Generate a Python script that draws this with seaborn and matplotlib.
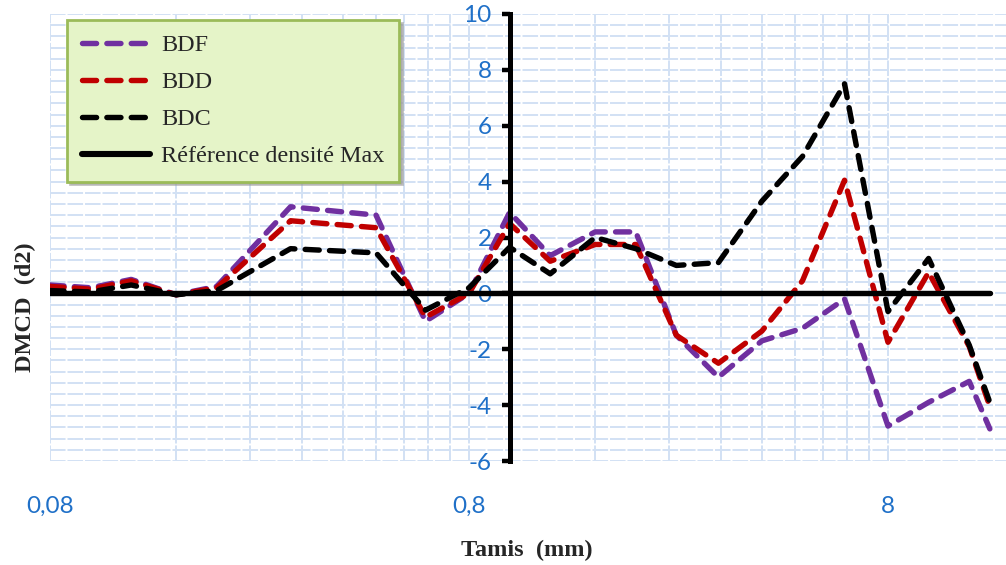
import numpy as np
import pandas as pd
import seaborn as sns
import matplotlib.pyplot as plt
from matplotlib.ticker import FixedLocator, MultipleLocator, NullFormatter

# sieve sizes (mm) and DMCD values
tamis = [0.08, 0.1, 0.125, 0.16, 0.2, 0.3, 0.48, 0.63, 0.8, 1, 1.25, 1.6,
         2, 2.5, 3.15, 4, 5, 6.3, 8, 10, 12.5, 14]
bdf = [0.3, 0.2, 0.5, -0.05, 0.25, 3.1, 2.8, -1.0, 0.0, 2.9, 1.35, 2.2,
       2.2, -1.5, -3.0, -1.7, -1.25, -0.2, -4.75, -3.9, -3.15, -4.85]
bdd = [0.25, 0.15, 0.45, -0.05, 0.2, 2.6, 2.35, -0.85, 0.0, 2.5, 1.15, 1.75,
       1.75, -1.5, -2.5, -1.35, 0.45, 4.05, -1.75, 0.75, -1.9, -4.05]
bdc = [0.1, 0.05, 0.3, -0.05, 0.1, 1.6, 1.45, -0.6, 0.2, 1.65, 0.7, 2.0,
       1.6, 1.0, 1.1, 3.3, 4.9, 7.5, -0.65, 1.25, -1.85, -3.9]
ref = [0, 0, 0, 0, 0, 0, 0, 0, 0, 0, 0, 0, 0, 0, 0, 0, 0, 0, 0, 0, 0, 0]

series = ['BDF', 'BDD', 'BDC', 'Référence densité Max']
colors = ['#7030a0', '#c00000', '#000000', '#000000']
x_ticks = [0.08, 0.8, 8]
x_ticklabels = ['0,08', '0,8', '8']

df = pd.DataFrame({'Tamis': tamis, 'BDF': bdf, 'BDD': bdd, 'BDC': bdc,
                   'Référence densité Max': ref})
long_df = df.melt(id_vars='Tamis', var_name='Série', value_name='DMCD')

sns.set_style('white')
plt.rcParams['font.family'] = ['Liberation Serif', 'DejaVu Serif']
plt.rcParams['axes.unicode_minus'] = False

W, H = 1006, 565
fig = plt.figure(figsize=(W / 100, H / 100), dpi=100)
ax = fig.add_axes([50 / W, 104 / H, 956 / W, 447 / H])

dash = (2.6, 1.9)
sns.lineplot(data=long_df, x='Tamis', y='DMCD', hue='Série', style='Série',
             hue_order=series, style_order=series,
             palette=dict(zip(series, colors)),
             dashes={'BDF': dash, 'BDD': dash, 'BDC': dash,
                     'Référence densité Max': ''},
             sort=False, ax=ax)
for line in ax.lines:
    line.set_linewidth(3.9)
    line.set_dash_capstyle('round')
    line.set_solid_capstyle('round')
    line.set_solid_joinstyle('round')
ax.lines[-1].set_linewidth(4.4)

ax.set_xscale('log')
ax.set_xlim(0.08, 0.08 * 10 ** (956 / 419))
ax.set_ylim(-6, 10)

# gridlines at multiples of 0.08 in each decade (Excel style log grid)
minor_x = [0.08 * k * 10 ** n for n in range(3) for k in range(2, 10)]
ax.xaxis.set_major_locator(FixedLocator(x_ticks))
ax.xaxis.set_minor_locator(FixedLocator(minor_x))
ax.set_xticklabels(x_ticklabels)
ax.xaxis.set_minor_formatter(NullFormatter())
ax.yaxis.set_major_locator(MultipleLocator(2))
ax.yaxis.set_minor_locator(MultipleLocator(0.4))

ax.grid(which='both', color='#d2e1f4', linewidth=1.4, linestyle=(0, (8, 1)))
ax.set_axisbelow(True)

for s in ['top', 'right', 'bottom']:
    ax.spines[s].set_visible(False)
ax.spines['left'].set_position(('data', 1))
ax.spines['left'].set_linewidth(3.6)
ax.spines['left'].set_color('black')
ax.spines['left'].set_zorder(5)

ax.tick_params(axis='y', which='major', length=6, width=3.2, color='black',
               direction='out', pad=7, labelsize=17.5, labelcolor='#1f70c8',
               labelfontfamily='Lato', left=True)
ax.tick_params(axis='x', which='major', length=0, pad=25, labelsize=17.5,
               labelcolor='#1f70c8', labelfontfamily='Lato')
ax.tick_params(which='minor', length=0)

ax.set_xlabel('')
ax.set_ylabel('')
fig.text(527 / W, 1 - 550 / H, 'Tamis  (mm)', ha='center', va='center',
         fontsize=17.5, fontweight='bold')
fig.text(25 / W, 1 - 307 / H, 'DMCD  (d2)', ha='center', va='center',
         rotation=90, fontsize=17.5, fontweight='bold')

handles, labels = ax.get_legend_handles_labels()
ax.legend(handles, labels, loc='upper left',
          bbox_to_anchor=(17 / 956, (461 - 20) / 447), borderaxespad=0,
          fontsize=17.4, handlelength=2.85, handletextpad=0.45,
          labelspacing=0.62, borderpad=0.6, fancybox=False,
          facecolor='#e5f4c8', edgecolor='#9bbb59', framealpha=1,
          shadow={'color': '#9a9a9a', 'alpha': 0.6})
ax.get_legend().get_frame().set_linewidth(2)

fig.savefig('out.png', dpi=100)
